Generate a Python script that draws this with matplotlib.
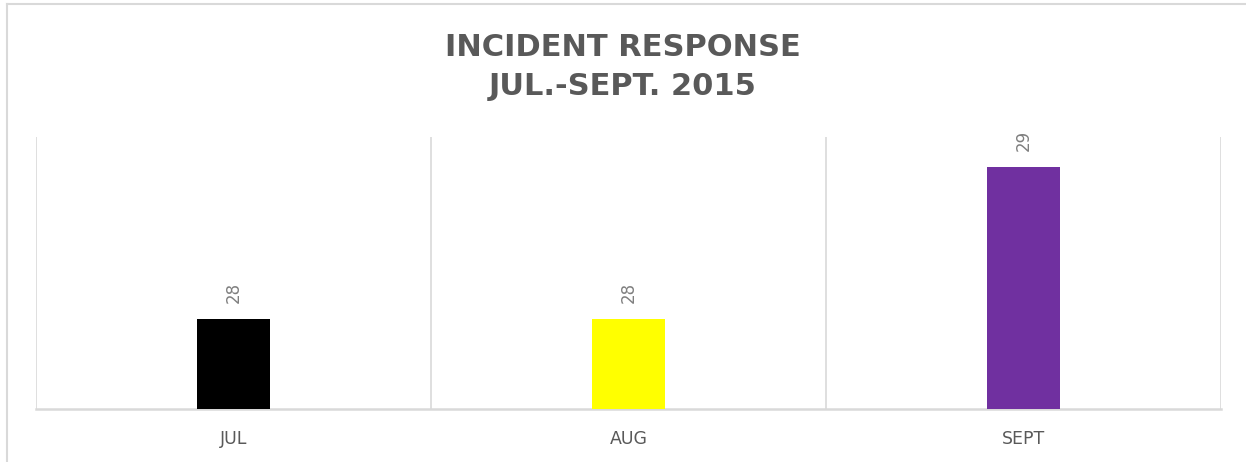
import numpy as np
import matplotlib
matplotlib.use('Agg')
import matplotlib.pyplot as plt
from matplotlib.lines import Line2D

# data
months = ['JUL', 'AUG', 'SEPT']
incidents = [28, 28, 29]
bar_colors = ['#000000', '#ffff00', '#7030a0']
title = 'INCIDENT RESPONSE\nJUL.-SEPT. 2015'

grid_col = '#d9d9d9'
text_col = '#595959'

fig = plt.figure(figsize=(12.46, 4.62), dpi=100)
ax = fig.add_axes([36/1246, 1-409/462, (1221-36)/1246, (409-137)/462])

x = np.arange(len(months))
bars = ax.bar(x, incidents, width=0.187, color=bar_colors, zorder=3)

ax.set_xlim(-0.5, len(months)-0.5)
ax.set_ylim(27.408, 29.197)

# vertical separators between categories
for b in np.arange(-0.5, len(months), 1.0):
    ax.axvline(b, color=grid_col, lw=1.2, zorder=1)

for s in ['top', 'left', 'right']:
    ax.spines[s].set_visible(False)
ax.spines['bottom'].set_color(grid_col)
ax.spines['bottom'].set_linewidth(1.8)
ax.set_yticks([])
ax.set_xticks(x)
ax.set_xticklabels(months, color=text_col, fontsize=12.5)
ax.tick_params(axis='x', length=0, pad=15)

# value labels
for rect, v in zip(bars, incidents):
    ax.annotate(str(v), (rect.get_x() + rect.get_width()/2, rect.get_height()),
                xytext=(0, 11.5), textcoords='offset points', rotation=90,
                ha='center', va='bottom', color='#7f7f7f', fontsize=12)

fig.text(0.5, 1-67/462, title, ha='center', va='center', fontsize=22,
         fontweight='bold', color=text_col, linespacing=1.45)

# chart frame
fig.add_artist(Line2D([7/1246, 1], [1-4/462, 1-4/462], color=grid_col, lw=1.5))
fig.add_artist(Line2D([7/1246, 7/1246], [0, 1-4/462], color=grid_col, lw=1.5))

fig.savefig('out.png', dpi=100)
